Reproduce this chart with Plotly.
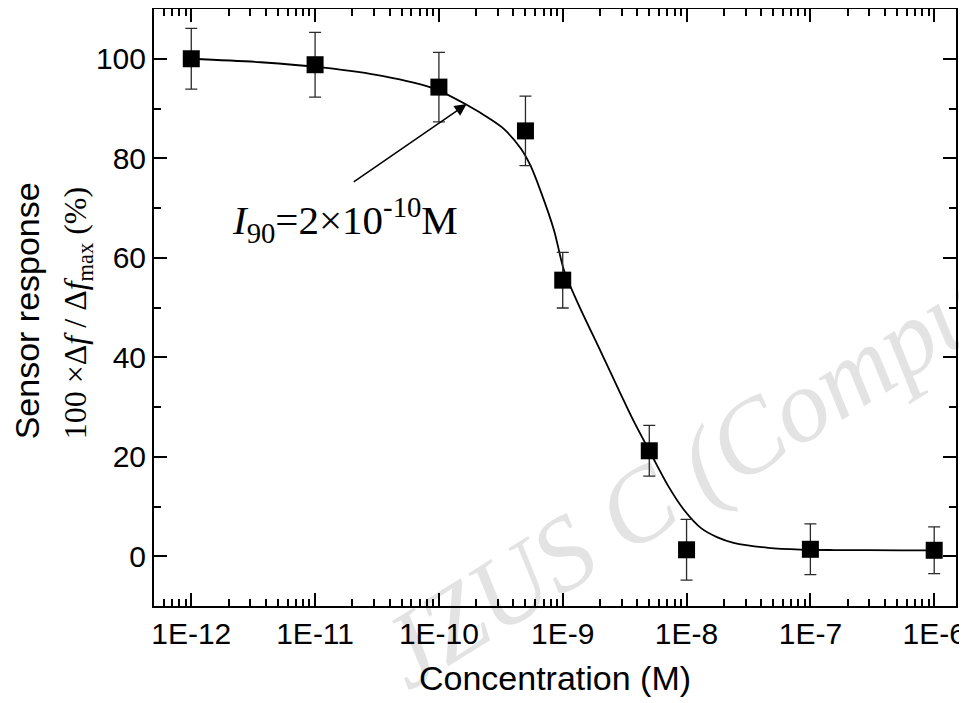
import math
import plotly.graph_objects as go

# ---- data ----
conc = [1e-12, 1e-11, 1e-10, 5e-10, 1e-9, 5e-9, 1e-8, 1e-7, 1e-6]
response = [100.0, 98.8, 94.3, 85.5, 55.5, 21.2, 1.3, 1.4, 1.2]
response_err = [6.1, 6.5, 7.0, 7.0, 5.6, 5.1, 6.1, 5.1, 4.7]

# fitted (logistic) curve
fit_log_conc = [-12.00, -11.44, -10.93, -10.45, -10.04, -9.78, -9.58, -9.48, -9.34,
                -9.26, -9.18, -9.07, -8.99, -8.88, -8.69, -8.53, -8.43, -8.29,
                -8.15, -8.02, -7.88, -7.75, -7.62, -7.34, -7.08, -6.81, -6.27, -6.00]
fit_response = [100.0, 99.3, 98.2, 96.5, 94.0, 90.8, 87.8, 86.0, 82.0,
                 78.5, 73.5, 65.5, 57.5, 51.0, 41.0, 32.5, 27.3, 20.7,
                 14.2, 9.3, 5.6, 3.8, 2.7, 1.7, 1.35, 1.25, 1.2, 1.2]

x_tick_vals = [1e-12, 1e-11, 1e-10, 1e-9, 1e-8, 1e-7, 1e-6]
x_tick_text = ["1E-12", "1E-11", "1E-10", "1E-9", "1E-8", "1E-7", "1E-6"]
y_tick_vals = [0, 20, 40, 60, 80, 100]

x_range_conc = [5e-13, 1.5e-6]
y_range = [-10, 110]

SANS = "Liberation Sans, Arial, sans-serif"
SERIF = "Liberation Serif, Times New Roman, serif"

fit_conc = [10 ** v for v in fit_log_conc]

fig = go.Figure()

fig.add_trace(go.Scatter(
    x=fit_conc, y=fit_response, mode="lines",
    line=dict(color="black", width=1.8, shape="spline", smoothing=0.8),
    showlegend=False, hoverinfo="skip",
))

fig.add_trace(go.Scatter(
    x=conc, y=response, mode="markers",
    marker=dict(symbol="square", size=17, color="black", line=dict(width=0)),
    error_y=dict(type="data", array=response_err, visible=True,
                 color="#2a2a2a", thickness=1.3, width=6),
    showlegend=False,
))

axis_common = dict(
    showline=True, linecolor="black", linewidth=2, mirror="ticks",
    ticks="inside", ticklen=13, tickwidth=2, tickcolor="black",
    showgrid=False, zeroline=False, automargin=False,
    tickfont=dict(family=SANS, size=30, color="black"),
)

fig.update_xaxes(
    type="log",
    range=[math.log10(x_range_conc[0]), math.log10(x_range_conc[1])],
    tickmode="array", tickvals=x_tick_vals, ticktext=x_tick_text,
    ticklabeloverflow="allow",
    minor=dict(ticks="inside", ticklen=7, tickwidth=2, tickcolor="black",
               dtick="D1", showgrid=False),
    title=dict(text="Concentration (M)", font=dict(family=SANS, size=34, color="black"),
               standoff=17),
    **axis_common,
)

fig.update_yaxes(
    range=y_range,
    tickmode="array", tickvals=y_tick_vals,
    minor=dict(ticks="inside", ticklen=7, tickwidth=2, tickcolor="black",
               dtick=10, showgrid=False),
    **axis_common,
)

annotations = [
    # y-axis title, two lines
    dict(text="Sensor response", xref="paper", yref="paper",
         x=-0.158, y=0.494, xanchor="center", yanchor="middle",
         textangle=-90, showarrow=False,
         font=dict(family=SANS, size=34, color="black")),
    dict(text="100 ×Δ<i>f</i> / Δ<i>f</i><sub>max</sub> (%)", xref="paper", yref="paper",
         x=-0.095, y=0.49, xanchor="center", yanchor="middle",
         textangle=-90, showarrow=False,
         font=dict(family=SERIF, size=32, color="black")),
    # I90 label
    dict(text="<i>I</i><sub>90</sub>=2×10<sup>-10</sup>M", xref="x", yref="y",
         x=-10.755, y=67.6, xanchor="center", yanchor="middle", showarrow=False,
         font=dict(family=SERIF, size=41, color="black")),
    # arrow
    dict(text="", xref="x", yref="y", x=-9.776, y=90.9,
         axref="x", ayref="y", ax=-10.70, ay=75.05,
         showarrow=True, arrowhead=2, arrowsize=1.6, arrowwidth=1.5,
         arrowcolor="black"),
]

# watermark as a shape label, placed below the traces
watermark = dict(
    type="rect", xref="paper", yref="paper",
    x0=0.655, x1=0.675, y0=0.23, y1=0.25,
    line=dict(width=0), fillcolor="rgba(0,0,0,0)", layer="below",
    label=dict(text="<i>JZUS C (Comput</i>", textangle=-32,
               textposition="middle center",
               font=dict(family=SERIF, size=104, color="#e3e3e3")),
)

# the page adds an 8 px body margin; the figure is offset to compensate
fig.update_layout(
    width=959, height=695,
    margin=dict(l=146, r=11, t=1, b=97),
    paper_bgcolor="white", plot_bgcolor="rgba(0,0,0,0)",
    annotations=annotations,
    shapes=[watermark],
    showlegend=False,
)

fig.write_html("out.html")
